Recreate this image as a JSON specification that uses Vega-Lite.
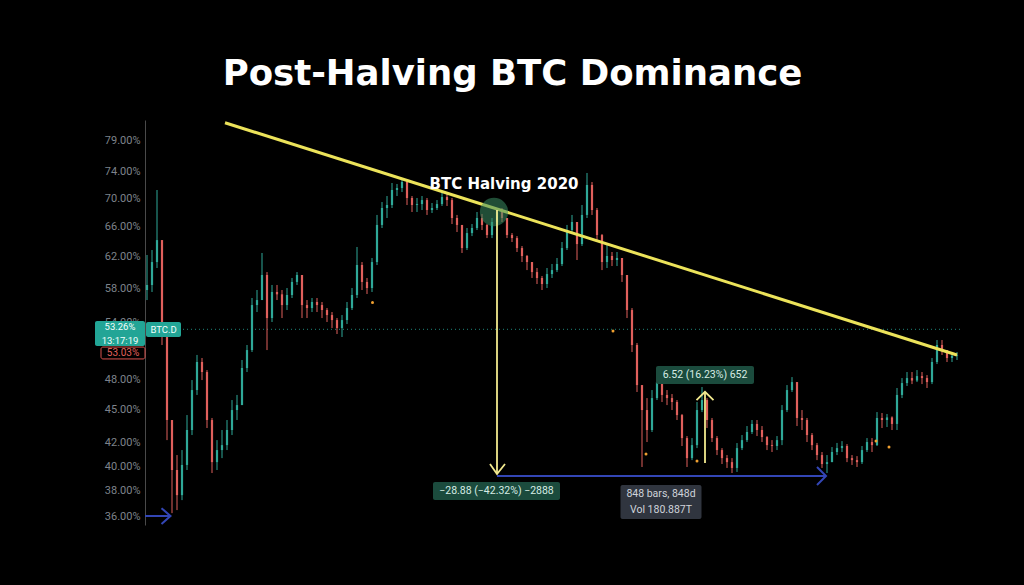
{
  "$schema": "https://vega.github.io/schema/vega-lite/v6.json",
  "autosize": {"type": "none"},
  "padding": {"left": 145, "top": 120, "right": 64, "bottom": 60},
  "width": 815,
  "height": 405,
  "background": "#000000",
  "title": {"text": "Post-Halving BTC Dominance", "font": "DejaVu Sans", "fontSize": 35.5, "fontWeight": "bold", "color": "#ffffff", "anchor": "middle", "dx": -40, "offset": -4, "baseline": "alphabetic"},
  "config": {
    "view": {"stroke": null},
    "axis": {"domainColor": "#4a4a4a", "ticks": false, "grid": false, "labelColor": "#7e838b", "labelFont": "Roboto", "labelFontSize": 11, "labelPadding": 5, "title": null}
  },
  "datasets": {
    "candles": [
      {"i":0,"o":57.82,"h":62.21,"l":56.62,"c":58.43},{"i":1,"o":58.43,"h":62.86,"l":57.58,"c":61.30},{"i":2,"o":61.30,"h":71.26,"l":60.54,"c":64.18},{"i":3,"o":64.18,"h":64.18,"l":51.54,"c":53.18},{"i":4,"o":53.18,"h":53.18,"l":42.25,"c":44.06},{"i":5,"o":44.06,"h":44.06,"l":36.27,"c":39.69},{"i":6,"o":39.69,"h":40.95,"l":36.50,"c":37.66},{"i":7,"o":37.66,"h":41.38,"l":37.27,"c":40.11},{"i":8,"o":40.11,"h":44.52,"l":39.69,"c":43.15},{"i":9,"o":43.15,"h":47.90,"l":42.70,"c":46.91},
      {"i":10,"o":46.91,"h":50.48,"l":46.43,"c":49.74},{"i":11,"o":49.74,"h":50.16,"l":47.90,"c":48.71},{"i":12,"o":48.71,"h":48.91,"l":43.33,"c":44.06},{"i":13,"o":44.06,"h":44.25,"l":39.44,"c":40.35},{"i":14,"o":40.35,"h":42.25,"l":39.69,"c":41.38},{"i":15,"o":41.38,"h":43.15,"l":40.69,"c":41.81},{"i":16,"o":41.81,"h":44.06,"l":41.38,"c":43.15},{"i":17,"o":43.15,"h":45.94,"l":42.70,"c":44.99},{"i":18,"o":44.99,"h":46.43,"l":44.06,"c":45.46},{"i":19,"o":45.46,"h":49.95,"l":45.46,"c":49.12},
      {"i":20,"o":49.12,"h":51.54,"l":48.71,"c":51.00},{"i":21,"o":51.00,"h":56.86,"l":50.79,"c":56.03},{"i":22,"o":56.03,"h":57.82,"l":55.22,"c":56.62},{"i":23,"o":56.62,"h":62.47,"l":56.62,"c":59.66},{"i":24,"o":59.66,"h":60.03,"l":51.00,"c":54.53},{"i":25,"o":54.53,"h":58.43,"l":54.08,"c":57.58},{"i":26,"o":57.58,"h":58.43,"l":56.62,"c":57.30},{"i":27,"o":57.30,"h":57.82,"l":54.53,"c":56.03},{"i":28,"o":56.03,"h":58.06,"l":55.45,"c":57.22},{"i":29,"o":57.22,"h":59.29,"l":56.86,"c":58.80},
      {"i":30,"o":58.80,"h":60.03,"l":58.43,"c":59.66},{"i":31,"o":59.66,"h":59.66,"l":54.53,"c":56.03},{"i":32,"o":56.03,"h":56.62,"l":54.53,"c":55.68},{"i":33,"o":55.68,"h":56.86,"l":55.22,"c":56.39},{"i":34,"o":56.39,"h":56.86,"l":55.22,"c":56.03},{"i":35,"o":56.03,"h":56.39,"l":54.53,"c":55.45},{"i":36,"o":55.45,"h":55.68,"l":54.08,"c":54.87},{"i":37,"o":54.87,"h":55.22,"l":53.40,"c":54.30},{"i":38,"o":54.30,"h":54.53,"l":52.74,"c":53.40},{"i":39,"o":53.40,"h":54.87,"l":52.41,"c":54.30},
      {"i":40,"o":54.30,"h":56.39,"l":53.85,"c":55.68},{"i":41,"o":55.68,"h":58.06,"l":55.45,"c":57.22},{"i":42,"o":57.22,"h":63.26,"l":56.86,"c":60.92},{"i":43,"o":60.92,"h":61.30,"l":57.82,"c":58.80},{"i":44,"o":58.80,"h":59.29,"l":57.34,"c":58.06},{"i":45,"o":58.06,"h":61.82,"l":57.58,"c":61.30},{"i":46,"o":61.30,"h":67.64,"l":60.92,"c":66.24},{"i":47,"o":66.24,"h":69.49,"l":65.82,"c":68.63},{"i":48,"o":68.63,"h":70.37,"l":67.21,"c":69.06},{"i":49,"o":69.06,"h":72.31,"l":68.63,"c":71.26},
      {"i":50,"o":71.26,"h":72.16,"l":70.37,"c":71.56},{"i":51,"o":71.56,"h":73.07,"l":70.96,"c":72.46},{"i":52,"o":72.46,"h":72.76,"l":69.06,"c":70.08},{"i":53,"o":70.08,"h":70.37,"l":68.06,"c":69.06},{"i":54,"o":69.06,"h":70.08,"l":68.06,"c":69.20},{"i":55,"o":69.20,"h":70.37,"l":68.34,"c":69.78},{"i":56,"o":69.78,"h":70.08,"l":67.64,"c":68.34},{"i":57,"o":68.34,"h":69.35,"l":67.92,"c":68.63},{"i":58,"o":68.63,"h":69.78,"l":68.34,"c":69.20},{"i":59,"o":69.20,"h":70.82,"l":68.92,"c":70.22},
      {"i":60,"o":70.22,"h":70.96,"l":68.92,"c":69.78},{"i":61,"o":69.78,"h":70.08,"l":66.37,"c":67.21},{"i":62,"o":67.21,"h":67.64,"l":65.27,"c":66.24},{"i":63,"o":66.24,"h":66.24,"l":62.47,"c":63.12},{"i":64,"o":63.12,"h":65.82,"l":62.86,"c":65.13},{"i":65,"o":65.13,"h":66.37,"l":64.72,"c":65.82},{"i":66,"o":65.82,"h":68.06,"l":65.54,"c":67.21},{"i":67,"o":67.21,"h":67.78,"l":65.54,"c":66.24},{"i":68,"o":66.24,"h":66.37,"l":64.45,"c":64.86},{"i":69,"o":64.86,"h":67.21,"l":64.45,"c":66.65},
      {"i":70,"o":66.65,"h":68.63,"l":66.37,"c":68.06},{"i":71,"o":68.06,"h":68.63,"l":66.65,"c":67.21},{"i":72,"o":67.21,"h":67.21,"l":64.45,"c":64.86},{"i":73,"o":64.86,"h":65.13,"l":63.92,"c":64.45},{"i":74,"o":64.45,"h":64.72,"l":62.60,"c":63.12},{"i":75,"o":63.12,"h":63.39,"l":61.30,"c":62.08},{"i":76,"o":62.08,"h":62.21,"l":60.28,"c":61.30},{"i":77,"o":61.30,"h":61.30,"l":59.29,"c":60.03},{"i":78,"o":60.03,"h":60.54,"l":58.55,"c":59.29},{"i":79,"o":59.29,"h":59.54,"l":57.82,"c":58.55},
      {"i":80,"o":58.55,"h":60.54,"l":58.06,"c":59.78},{"i":81,"o":59.78,"h":61.05,"l":59.29,"c":60.28},{"i":82,"o":60.28,"h":61.82,"l":60.03,"c":61.05},{"i":83,"o":61.05,"h":63.92,"l":60.79,"c":63.12},{"i":84,"o":63.12,"h":66.24,"l":62.86,"c":65.54},{"i":85,"o":65.54,"h":67.64,"l":65.27,"c":66.65},{"i":86,"o":66.65,"h":66.65,"l":61.56,"c":63.65},{"i":87,"o":63.65,"h":69.06,"l":63.39,"c":67.64},{"i":88,"o":67.64,"h":73.84,"l":67.21,"c":72.01},{"i":89,"o":72.01,"h":72.46,"l":67.64,"c":68.34},
      {"i":90,"o":68.34,"h":68.63,"l":64.18,"c":64.86},{"i":91,"o":64.86,"h":65.00,"l":60.28,"c":61.30},{"i":92,"o":61.30,"h":63.52,"l":60.54,"c":62.08},{"i":93,"o":62.08,"h":62.60,"l":60.79,"c":61.56},{"i":94,"o":61.56,"h":62.60,"l":60.79,"c":61.82},{"i":95,"o":61.82,"h":61.82,"l":58.80,"c":59.66},{"i":96,"o":59.66,"h":59.66,"l":54.53,"c":55.45},{"i":97,"o":55.45,"h":55.68,"l":50.79,"c":51.54},{"i":98,"o":51.54,"h":51.76,"l":46.72,"c":47.40},{"i":99,"o":47.40,"h":47.40,"l":39.94,"c":44.99},
      {"i":100,"o":44.99,"h":46.13,"l":42.08,"c":43.15},{"i":101,"o":43.15,"h":46.91,"l":42.97,"c":46.13},{"i":102,"o":46.13,"h":48.30,"l":45.94,"c":47.70},{"i":103,"o":47.70,"h":48.10,"l":45.75,"c":46.43},{"i":104,"o":46.43,"h":46.91,"l":45.46,"c":46.13},{"i":105,"o":46.13,"h":46.52,"l":44.99,"c":45.75},{"i":106,"o":45.75,"h":45.94,"l":44.06,"c":44.52},{"i":107,"o":44.52,"h":44.62,"l":41.73,"c":42.43},{"i":108,"o":42.43,"h":42.61,"l":39.94,"c":40.69},{"i":109,"o":40.69,"h":42.43,"l":40.52,"c":41.81},
      {"i":110,"o":41.81,"h":45.75,"l":41.55,"c":44.99},{"i":111,"o":44.99,"h":47.21,"l":44.80,"c":45.94},{"i":112,"o":45.94,"h":46.13,"l":43.33,"c":44.06},{"i":113,"o":44.06,"h":44.25,"l":42.08,"c":42.43},{"i":114,"o":42.43,"h":42.61,"l":40.95,"c":41.38},{"i":115,"o":41.38,"h":41.55,"l":40.19,"c":40.69},{"i":116,"o":40.69,"h":40.95,"l":39.86,"c":40.35},{"i":117,"o":40.35,"h":40.69,"l":39.44,"c":39.86},{"i":118,"o":39.86,"h":41.99,"l":39.53,"c":41.55},{"i":119,"o":41.55,"h":42.70,"l":41.38,"c":42.25},
      {"i":120,"o":42.25,"h":43.51,"l":42.08,"c":42.97},{"i":121,"o":42.97,"h":44.06,"l":42.79,"c":43.70},{"i":122,"o":43.70,"h":44.06,"l":42.61,"c":43.15},{"i":123,"o":43.15,"h":43.51,"l":42.08,"c":42.52},{"i":124,"o":42.52,"h":42.61,"l":41.38,"c":41.81},{"i":125,"o":41.81,"h":42.25,"l":41.21,"c":41.73},{"i":126,"o":41.73,"h":42.61,"l":41.38,"c":42.25},{"i":127,"o":42.25,"h":45.46,"l":41.81,"c":44.99},{"i":128,"o":44.99,"h":47.40,"l":44.80,"c":46.91},{"i":129,"o":46.91,"h":48.20,"l":46.72,"c":47.70},
      {"i":130,"o":47.70,"h":47.70,"l":43.51,"c":44.25},{"i":131,"o":44.25,"h":44.99,"l":43.15,"c":44.06},{"i":132,"o":44.06,"h":44.25,"l":42.08,"c":42.70},{"i":133,"o":42.70,"h":42.88,"l":41.38,"c":41.81},{"i":134,"o":41.81,"h":42.00,"l":40.52,"c":40.95},{"i":135,"o":40.95,"h":41.21,"l":39.86,"c":40.19},{"i":136,"o":40.19,"h":40.95,"l":39.44,"c":40.35},{"i":137,"o":40.35,"h":41.64,"l":40.35,"c":41.21},{"i":138,"o":41.21,"h":42.00,"l":40.95,"c":41.55},{"i":139,"o":41.55,"h":42.16,"l":41.21,"c":41.73},
      {"i":140,"o":41.73,"h":41.90,"l":40.35,"c":40.69},{"i":141,"o":40.69,"h":40.95,"l":40.11,"c":40.52},{"i":142,"o":40.52,"h":40.86,"l":39.94,"c":40.35},{"i":143,"o":40.35,"h":41.73,"l":40.19,"c":41.38},{"i":144,"o":41.38,"h":42.43,"l":41.21,"c":42.08},{"i":145,"o":42.08,"h":42.43,"l":41.21,"c":41.81},{"i":146,"o":41.81,"h":44.80,"l":41.73,"c":44.25},{"i":147,"o":44.25,"h":44.71,"l":43.33,"c":44.06},{"i":148,"o":44.06,"h":44.62,"l":43.42,"c":44.30},{"i":149,"o":44.30,"h":44.40,"l":43.15,"c":43.70},
      {"i":150,"o":43.70,"h":47.11,"l":43.15,"c":46.43},{"i":151,"o":46.43,"h":48.10,"l":46.13,"c":47.60},{"i":152,"o":47.60,"h":48.71,"l":47.31,"c":48.10},{"i":153,"o":48.10,"h":48.71,"l":47.50,"c":47.85},{"i":154,"o":47.85,"h":48.91,"l":47.70,"c":48.30},{"i":155,"o":48.30,"h":48.71,"l":47.50,"c":48.10},{"i":156,"o":48.10,"h":48.40,"l":47.11,"c":47.70},{"i":157,"o":47.70,"h":50.16,"l":47.50,"c":49.74},{"i":158,"o":49.74,"h":52.08,"l":49.53,"c":51.54},{"i":159,"o":51.54,"h":52.08,"l":50.48,"c":51.00},
      {"i":160,"o":51.00,"h":51.00,"l":49.74,"c":50.16},{"i":161,"o":50.16,"h":50.58,"l":49.74,"c":50.40},{"i":162,"o":50.40,"h":50.79,"l":49.95,"c":50.48}
    ],
    "lines": [
      {"g":"trend","kind":"trend","k":0,"i":15.6,"v":82.02},{"g":"trend","kind":"trend","k":1,"i":162,"v":50.47},
      {"g":"ds","kind":"yellow","k":0,"i":70,"v":68.34},{"g":"ds","kind":"yellow","k":1,"i":70,"v":39.36},
      {"g":"dh","kind":"yellow","k":0,"i":68.6,"v":40.19},{"g":"dh","kind":"yellow","k":1,"i":70,"v":39.36},{"g":"dh","kind":"yellow","k":2,"i":71.6,"v":40.19},
      {"g":"us","kind":"yellow","k":0,"i":111.6,"v":40.27},{"g":"us","kind":"yellow","k":1,"i":111.6,"v":46.74},
      {"g":"uh","kind":"yellow","k":0,"i":109.9,"v":45.94},{"g":"uh","kind":"yellow","k":1,"i":111.6,"v":46.74},{"g":"uh","kind":"yellow","k":2,"i":113.3,"v":45.94},
      {"g":"bs","kind":"blue","k":0,"i":70,"v":39.20},{"g":"bs","kind":"blue","k":1,"i":135.8,"v":39.20},
      {"g":"bh","kind":"blue","k":0,"i":134,"v":39.94},{"g":"bh","kind":"blue","k":1,"i":135.8,"v":39.20},{"g":"bh","kind":"blue","k":2,"i":134,"v":38.47},
      {"g":"ls","kind":"blue","k":0,"i":-0.4,"v":36.05},{"g":"ls","kind":"blue","k":1,"i":4.7,"v":36.05},
      {"g":"lh","kind":"blue","k":0,"i":2.9,"v":36.65},{"g":"lh","kind":"blue","k":1,"i":4.7,"v":36.05},{"g":"lh","kind":"blue","k":2,"i":2.9,"v":35.45}
    ],
    "dots": [
      {"i":45.1,"v":56.33},{"i":93.2,"v":53.07},{"i":99.8,"v":41.04},{"i":110,"v":40.44},{"i":145.8,"v":42.16},{"i":148.4,"v":41.64}
    ],
    "boxes": [
      {"kind":"teal","x1":-10.4,"x2":-0.4,"y1":51.43,"y2":54.19},
      {"kind":"teal","x1":-0.2,"x2":6.8,"y1":52.41,"y2":54.08},
      {"kind":"measure","x1":101.8,"x2":121.4,"y1":47.50,"y2":49.33},
      {"kind":"measure","x1":57.2,"x2":82.6,"y1":37.27,"y2":38.71},
      {"kind":"info","x1":94.7,"x2":110.9,"y1":35.83,"y2":38.47}
    ],
    "redbox": [{"x1":-9.2,"x2":-0.4,"y1":50.06,"y2":51.32}],
    "texts": [
      {"kind":"halving","t":"BTC Halving 2020","i":71.4,"v":71.41},
      {"kind":"measure","t":"6.52 (16.23%) 652","i":111.6,"v":48.41},
      {"kind":"measure","t":"−28.88 (−42.32%) −2888","i":69.9,"v":37.98},
      {"kind":"info","t":"848 bars, 848d","i":102.8,"v":37.74},
      {"kind":"info","t":"Vol 180.887T","i":102.8,"v":36.50},
      {"kind":"teal","t":"53.26%","i":-5.4,"v":53.55},
      {"kind":"teal","t":"13:17:19","i":-5.4,"v":52.02},
      {"kind":"teal","t":"BTC.D","i":3.3,"v":53.23},
      {"kind":"red","t":"53.03%","i":-4.8,"v":50.69}
    ]
  },
  "encoding": {
    "x": {"field": "i", "type": "quantitative", "scale": {"domain": [-0.4, 162.6], "nice": false, "zero": false}, "axis": null}
  },
  "layer": [
    {
      "data": {"values": [{"v": 53.26}]},
      "mark": {"type": "rule", "color": "#26a69a", "strokeDash": [1, 3], "strokeWidth": 1, "opacity": 0.8},
      "encoding": {
        "x": null,
        "y": {"field": "v", "type": "quantitative", "scale": {"type": "log", "domain": [35.38, 82.49], "nice": false, "zero": false},
              "axis": {"values": [36, 38, 40, 42, 45, 48, 54, 58, 62, 66, 70, 74, 79], "labelExpr": "format(datum.value, '.2f') + '%'"}}
      }
    },
    {
      "data": {"name": "candles"},
      "mark": {"type": "rule", "strokeWidth": 1},
      "encoding": {
        "y": {"field": "l", "type": "quantitative"},
        "y2": {"field": "h"},
        "color": {"condition": {"test": "datum.c < datum.o", "value": "#e0605c"}, "value": "#2fa898"}
      }
    },
    {
      "data": {"name": "candles"},
      "mark": {"type": "rule", "strokeWidth": 2.2},
      "encoding": {
        "y": {"field": "o", "type": "quantitative"},
        "y2": {"field": "c"},
        "color": {"condition": {"test": "datum.c < datum.o", "value": "#e0605c"}, "value": "#2fa898"}
      }
    },
    {
      "data": {"name": "dots"},
      "mark": {"type": "point", "filled": true, "size": 9, "color": "#f0a030", "opacity": 1},
      "encoding": {"y": {"field": "v", "type": "quantitative"}}
    },
    {
      "data": {"name": "lines"},
      "transform": [{"filter": "datum.kind === 'trend'"}],
      "mark": {"type": "line", "color": "#ece35a", "strokeWidth": 3},
      "encoding": {"y": {"field": "v", "type": "quantitative"}, "detail": {"field": "g"}, "order": {"field": "k"}}
    },
    {
      "data": {"values": [{"i": 69.4, "v": 68.06}]},
      "mark": {"type": "point", "filled": true, "size": 800, "color": "#3a8c63", "opacity": 0.55},
      "encoding": {"y": {"field": "v", "type": "quantitative"}}
    },
    {
      "data": {"name": "lines"},
      "transform": [{"filter": "datum.kind === 'yellow'"}],
      "mark": {"type": "line", "color": "#f2e98e", "strokeWidth": 1.8},
      "encoding": {"y": {"field": "v", "type": "quantitative"}, "detail": {"field": "g"}, "order": {"field": "k"}}
    },
    {
      "data": {"name": "lines"},
      "transform": [{"filter": "datum.kind === 'blue'"}],
      "mark": {"type": "line", "color": "#3346b5", "strokeWidth": 2},
      "encoding": {"y": {"field": "v", "type": "quantitative"}, "detail": {"field": "g"}, "order": {"field": "k"}}
    },
    {
      "data": {"name": "boxes"},
      "mark": {"type": "rect", "cornerRadius": 2},
      "encoding": {
        "x": {"field": "x1", "type": "quantitative"},
        "x2": {"field": "x2"},
        "y": {"field": "y1", "type": "quantitative"},
        "y2": {"field": "y2"},
        "color": {"field": "kind", "type": "nominal", "scale": {"domain": ["teal", "measure", "info"], "range": ["#22a596", "#1b4b3d", "#30353f"]}, "legend": null}
      }
    },
    {
      "data": {"name": "redbox"},
      "mark": {"type": "rect", "fill": "#000000", "stroke": "#d9534f", "strokeWidth": 1, "cornerRadius": 2},
      "encoding": {
        "x": {"field": "x1", "type": "quantitative"},
        "x2": {"field": "x2"},
        "y": {"field": "y1", "type": "quantitative"},
        "y2": {"field": "y2"}
      }
    },
    {
      "data": {"name": "texts"},
      "transform": [{"filter": "datum.kind === 'halving'"}],
      "mark": {"type": "text", "font": "DejaVu Sans", "fontWeight": "bold", "fontSize": 15, "color": "#ffffff", "align": "center", "baseline": "alphabetic"},
      "encoding": {"y": {"field": "v", "type": "quantitative"}, "text": {"field": "t"}}
    },
    {
      "data": {"name": "texts"},
      "transform": [{"filter": "datum.kind === 'measure'"}],
      "mark": {"type": "text", "font": "Roboto", "fontSize": 10.5, "color": "#d6ece4", "align": "center", "baseline": "middle"},
      "encoding": {"y": {"field": "v", "type": "quantitative"}, "text": {"field": "t"}}
    },
    {
      "data": {"name": "texts"},
      "transform": [{"filter": "datum.kind === 'info'"}],
      "mark": {"type": "text", "font": "Roboto", "fontSize": 10.5, "color": "#cfd3da", "align": "center", "baseline": "middle"},
      "encoding": {"y": {"field": "v", "type": "quantitative"}, "text": {"field": "t"}}
    },
    {
      "data": {"name": "texts"},
      "transform": [{"filter": "datum.kind === 'teal'"}],
      "mark": {"type": "text", "font": "Roboto", "fontSize": 9.5, "color": "#f2fffc", "align": "center", "baseline": "middle"},
      "encoding": {"y": {"field": "v", "type": "quantitative"}, "text": {"field": "t"}}
    },
    {
      "data": {"name": "texts"},
      "transform": [{"filter": "datum.kind === 'red'"}],
      "mark": {"type": "text", "font": "Roboto", "fontSize": 10, "color": "#e0605c", "align": "center", "baseline": "middle"},
      "encoding": {"y": {"field": "v", "type": "quantitative"}, "text": {"field": "t"}}
    }
  ]
}
